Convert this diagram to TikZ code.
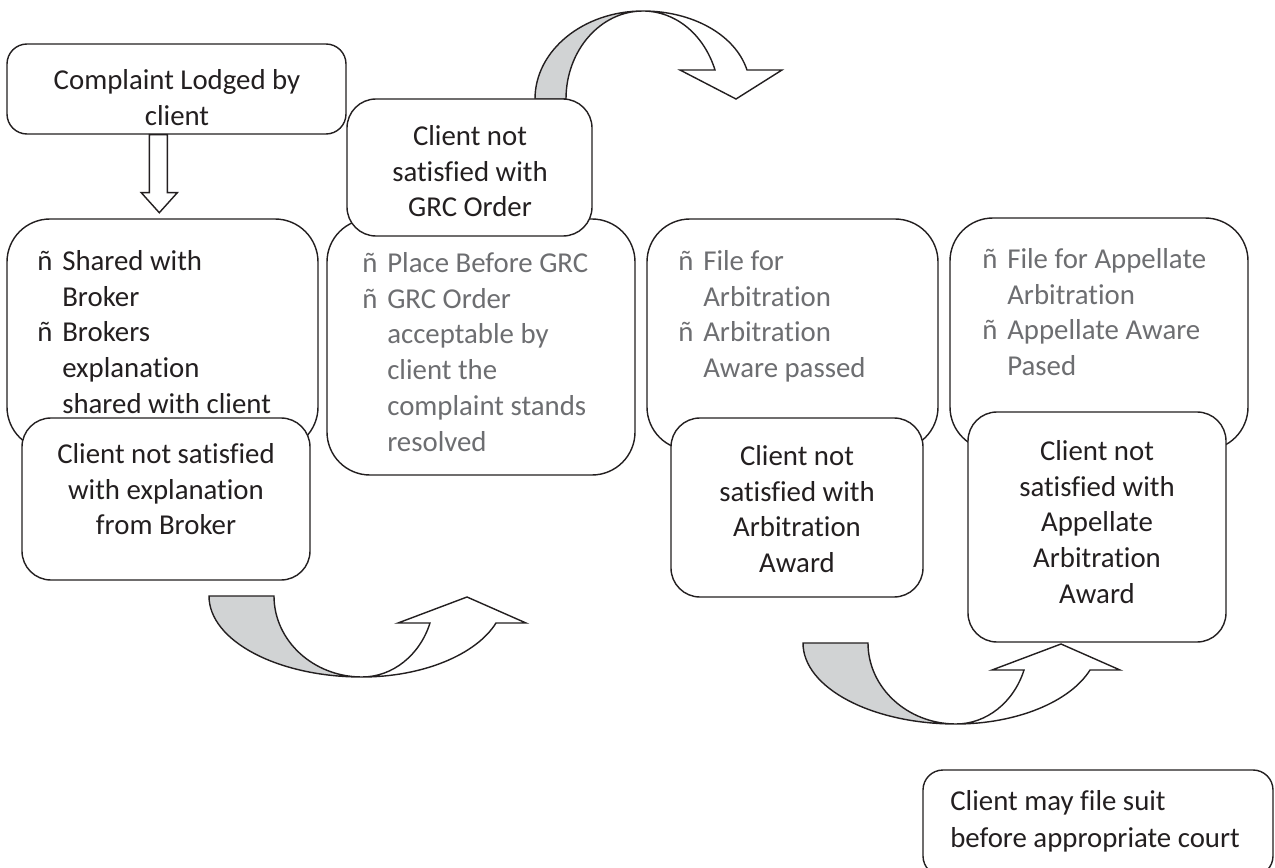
\documentclass[tikz,border=0pt]{standalone}
\usepackage{fontspec}
\setmainfont{Carlito}[Ligatures={NoCommon}]
\usetikzlibrary{fit,calc}
\definecolor{ink}{HTML}{231F20}
\definecolor{greytext}{HTML}{6D6E71}
\definecolor{arrowgray}{HTML}{D1D3D4}
\newcommand{\fl}{\rule{0pt}{13pt}}
\newcommand{\bul}{\makebox[14.2pt][l]{ñ}}
\newcommand{\ind}{\hspace*{14.2pt}}
\begin{document}
\begin{tikzpicture}[x=0.02cm,y=-0.02cm,
  box/.style={draw=ink, line width=0.8pt, fill=white, inner sep=0pt},
  smallr/.style={rounded corners=0.4cm},
  midr/.style={rounded corners=0.58cm},
  bigr/.style={rounded corners=0.86cm},
  shapeline/.style={draw=ink, line width=0.8pt, line join=miter},
  txt/.style={inner sep=0pt, text=ink, font=\fontsize{16.4}{20.4}\selectfont},
  gtxt/.style={txt, text=greytext, align=left, anchor=north west},
  ctxt/.style={txt, align=center, anchor=north}]
\useasboundingbox (0,0) rectangle (1275,868);
\fill[white] (0,0) rectangle (1275,868);

% curved arrow at the top
\filldraw[shapeline, fill=arrowgray] (535,99) .. controls (535,50.4) and (583.4,11) .. (643,11)
  .. controls (600.5,11) and (566,50.4) .. (566,99) -- cycle;
\filldraw[shapeline, fill=white] (643,11) .. controls (691.5,11) and (735,34) .. (747,70)
  -- (782,70) -- (736,99) -- (680,70) -- (715,70)
  .. controls (703.7,33.8) and (675,11) .. (643,11) -- cycle;

% curved arrows at the bottom
\foreach \dx/\dy in {0/0, 594/47}{
\begin{scope}[shift={(\dx,\dy)}]
\filldraw[shapeline, fill=arrowgray] (209,596) -- (274,596)
  .. controls (274,640.7) and (313.4,677) .. (362,677)
  .. controls (277.5,677) and (209,640.7) .. (209,596) -- cycle;
\filldraw[shapeline, fill=white] (362,677) .. controls (422,677) and (476,655) .. (496,623)
  -- (526,623) -- (467,597) -- (398,623) -- (430,623)
  .. controls (419.8,655.3) and (392.5,677) .. (362,677) -- cycle;
\end{scope}}

% boxes
\node[box, smallr, fit={(7,44) (346,134)}] (c1) {};
\node[box, bigr, fit={(7,219) (318,450)}] (b3) {};
\node[box, midr, fit={(22,418) (310,580)}] (c4) {};
\node[box, bigr, fit={(327,219) (635,475)}] (b5) {};
\node[box, midr, fit={(347,99) (592,236)}] (c6) {};
\node[box, bigr, fit={(647,219) (938,450)}] (b7) {};
\node[box, midr, fit={(671,418) (923,597)}] (c8) {};
\node[box, bigr, fit={(950,218) (1248,450)}] (b9) {};
\node[box, midr, fit={(968,412) (1226,642)}] (c10) {};
\node[box, smallr, fit={(923,770) (1273,876)}] (c11) {};

% block arrow from first box down
\filldraw[shapeline, fill=white] ($(c1.south west)+(143,0)$) -- ++(0,58) -- ++(-8,0)
  -- ++(18,20) -- ++(18,-20) -- ++(-10,0) -- ++(0,-58) -- cycle;

% texts
\node[ctxt] (t1) at (177,66) {\fl Complaint Lodged by\\client};
\node[txt, align=left, anchor=north west] (t3) at (37,247) {\fl\bul Shared with\\\ind Broker\\\bul Brokers\\\ind explanation\\\ind shared with client};
\node[ctxt] (t4) at (166,440) {\fl Client not satisfied\\with explanation\\from Broker};
\node[gtxt] (t5) at (362,249) {\fl\bul Place Before GRC\\\bul GRC Order\\\ind acceptable by\\\ind client the\\\ind complaint stands\\\ind resolved};
\node[ctxt] (t6) at (470,122) {\fl Client not\\satisfied with\\GRC Order};
\node[gtxt] (t7) at (678,247) {\fl\bul File for\\\ind Arbitration\\\bul Arbitration\\\ind Aware passed};
\node[ctxt] (t8) at (797,442) {\fl Client not\\satisfied with\\Arbitration\\Award};
\node[gtxt] (t9) at (982,245) {\fl\bul File for Appellate\\\ind Arbitration\\\bul Appellate Aware\\\ind Pased};
\node[ctxt] (t10) at (1097,437) {\fl Client not\\satisfied with\\Appellate\\Arbitration\\Award};
\node[txt, align=left, anchor=north west, font=\fontsize{16.4}{21}\selectfont] (t11) at (950,787) {\fl Client may file suit\\before appropriate court};
\end{tikzpicture}
\end{document}
